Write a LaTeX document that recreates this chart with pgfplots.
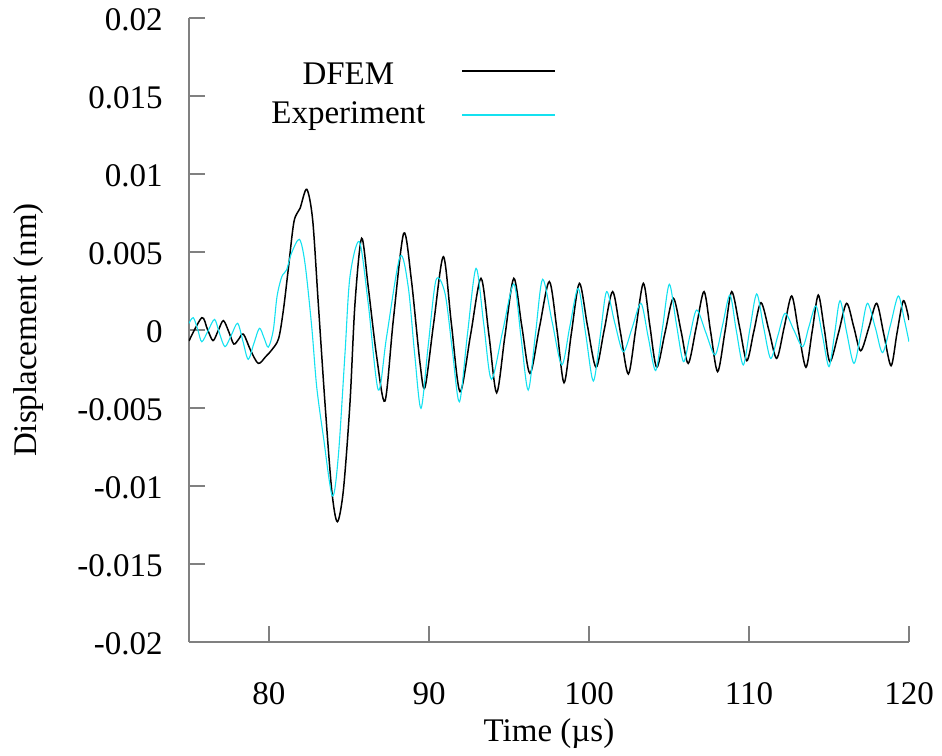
\documentclass[border=0pt]{standalone}
\usepackage{fontspec}
\setmainfont{Liberation Serif}
\usepackage{pgfplots}
\pgfplotsset{compat=1.18}
\usepackage{pgfplotstable}
\definecolor{expcyan}{RGB}{20,225,240}

\pgfplotstableread{
t y
75.0 -0.70e-3
75.8 0.79e-3
76.15 0.05e-3
76.5 -0.68e-3
76.82 -0.05e-3
77.15 0.60e-3
77.5 -0.15e-3
77.8 -0.90e-3
78.1 -0.60e-3
78.4 -0.26e-3
78.85 -1.30e-3
79.33 -2.14e-3
79.8 -1.70e-3
80.17 -1.28e-3
80.6 -0.55e-3
80.9 1.28e-3
81.2 3.85e-3
81.56 6.94e-3
81.94 7.80e-3
82.36 9.02e-3
82.73 7.05e-3
83.08 1.71e-3
83.5 -4.70e-3
83.92 -10.26e-3
84.27 -12.29e-3
84.65 -10.26e-3
85.06 -4.70e-3
85.375 1.71e-3
85.79 5.88e-3
86.2 2.78e-3
86.73 -1.71e-3
87.25 -4.55e-3
87.77 0.64e-3
88.42 6.20e-3
88.9 3.20e-3
89.44 -2.14e-3
89.75 -3.67e-3
90.3 0.50e-3
90.9 4.70e-3
91.4 0.40e-3
91.94 -3.95e-3
92.6 -0.30e-3
93.25 3.31e-3
93.75 -0.35e-3
94.23 -4.02e-3
94.75 -0.35e-3
95.3 3.31e-3
95.8 0.25e-3
96.31 -2.78e-3
96.9 0.15e-3
97.52 3.10e-3
98.0 0.00e-3
98.44 -3.38e-3
98.9 -0.20e-3
99.4 2.99e-3
99.9 0.30e-3
100.44 -2.39e-3
100.95 0.00e-3
101.48 2.46e-3
101.97 -0.18e-3
102.46 -2.82e-3
102.93 0.10e-3
103.4 2.99e-3
103.8 0.30e-3
104.23 -2.39e-3
104.75 -0.18e-3
105.27 2.03e-3
105.75 -0.05e-3
106.2 -2.14e-3
106.7 0.16e-3
107.19 2.46e-3
107.6 -0.10e-3
108.04 -2.67e-3
108.5 -0.10e-3
108.92 2.46e-3
109.4 0.25e-3
109.86 -1.97e-3
110.3 -0.10e-3
110.75 1.75e-3
111.25 -0.04e-3
111.73 -1.82e-3
112.2 0.18e-3
112.67 2.18e-3
113.1 -0.10e-3
113.56 -2.39e-3
113.95 -0.08e-3
114.33 2.24e-3
114.7 0.10e-3
115.06 -2.03e-3
115.6 -0.16e-3
116.1 1.71e-3
116.55 0.19e-3
116.98 -1.33e-3
117.5 0.19e-3
117.98 1.71e-3
118.43 -0.29e-3
118.88 -2.29e-3
119.25 -0.20e-3
119.65 1.88e-3
120.0 0.64e-3
}\dfem

\pgfplotstableread{
t y
75.0 0.43e-3
75.27 0.79e-3
75.55 0.02e-3
75.8 -0.75e-3
76.2 -0.03e-3
76.6 0.68e-3
76.9 -0.20e-3
77.25 -1.07e-3
77.65 -0.32e-3
78.04 0.43e-3
78.37 -0.72e-3
78.7 -1.88e-3
79.05 -0.88e-3
79.4 0.11e-3
79.68 -0.48e-3
79.96 -1.10e-3
80.27 0.00e-3
80.5 2.14e-3
80.8 3.42e-3
81.1 3.85e-3
81.4 4.91e-3
81.9 5.81e-3
82.25 4.27e-3
82.67 0.21e-3
82.98 -3.63e-3
83.4 -6.84e-3
83.96 -10.64e-3
84.33 -8.12e-3
84.75 -1.50e-3
85.06 3.42e-3
85.65 5.66e-3
86.2 1.71e-3
86.83 -3.85e-3
87.35 -0.43e-3
88.19 4.70e-3
88.7 2.78e-3
89.1 -1.50e-3
89.5 -5.02e-3
89.95 -1.00e-3
90.44 3.20e-3
91.0 2.35e-3
91.45 -1.20e-3
91.9 -4.60e-3
92.4 -0.30e-3
92.94 3.95e-3
93.42 0.40e-3
93.9 -3.16e-3
94.6 -0.10e-3
95.3 2.95e-3
95.75 -0.45e-3
96.2 -3.85e-3
96.65 -0.30e-3
97.1 3.25e-3
97.7 0.50e-3
98.3 -2.24e-3
98.8 0.21e-3
99.33 2.67e-3
99.8 -0.30e-3
100.27 -3.27e-3
100.7 -0.40e-3
101.1 2.46e-3
101.6 0.50e-3
102.14 -1.39e-3
102.7 0.15e-3
103.25 1.71e-3
103.7 -0.45e-3
104.17 -2.60e-3
104.6 0.17e-3
105.02 2.93e-3
105.45 0.45e-3
105.9 -2.03e-3
106.3 -0.40e-3
106.73 1.28e-3
107.3 -0.16e-3
107.88 -1.60e-3
108.35 0.32e-3
108.81 2.24e-3
109.2 0.00e-3
109.64 -2.24e-3
110.05 0.03e-3
110.48 2.31e-3
110.9 0.25e-3
111.35 -1.82e-3
111.8 -0.38e-3
112.25 1.07e-3
112.8 0.00e-3
113.35 -1.07e-3
113.75 0.23e-3
114.19 1.54e-3
114.6 -0.40e-3
115.0 -2.35e-3
115.35 -0.24e-3
115.69 1.88e-3
116.1 -0.13e-3
116.56 -2.14e-3
117.0 -0.20e-3
117.4 1.71e-3
117.9 0.13e-3
118.35 -1.45e-3
118.85 0.36e-3
119.33 2.18e-3
119.7 0.70e-3
120.0 -0.75e-3
}\expt

\begin{document}
\fontsize{16.5bp}{20bp}\selectfont
\begin{tikzpicture}[font=\fontsize{16.5bp}{20bp}\selectfont]
\useasboundingbox (-94.5bp,-57bp) rectangle (376.5bp,321bp);
\begin{axis}[
  scale only axis,
  width=360bp, height=312bp,
  xmin=75, xmax=120, ymin=-0.02, ymax=0.02,
  axis lines*=left,
  axis line style={-, gray, line width=1bp},
  tick align=inside,
  major tick length=8bp,
  tick style={gray, line width=1bp},
  xtick={80,90,100,110,120},
  ytick={-0.02,-0.015,-0.01,-0.005,0,0.005,0.01,0.015,0.02},
  yticklabels={-0.02,-0.015,-0.01,-0.005,0,0.005,0.01,0.015,0.02},
  scaled y ticks=false,
  /pgf/number format/assume math mode=true,
  xticklabel style={anchor=north, inner sep=0pt, yshift=-20bp},
  yticklabel style={anchor=east, inner sep=0pt, xshift=-13bp, yshift=-1bp},
  xlabel={Time (µs)},
  ylabel={Displacement (nm)},
  xlabel style={at={(axis description cs:0.5,-0.1587)}, anchor=base, inner sep=0pt},
  ylabel style={at={(axis description cs:-0.2125,0.5)}, anchor=base, inner sep=0pt, rotate=0},
  legend plot pos=right,
  legend style={at={(axis description cs:0.0958,0.939)}, anchor=north west,
    draw=none, fill=none, inner sep=0pt, row sep=3bp, column sep=11.5bp,
    nodes={inner sep=0pt}},
]
\addplot[black, line width=0.75bp, smooth, tension=0.5,
  legend image code/.code={\draw[black, line width=1.1bp] (0bp,1bp) -- (46.5bp,1bp);}]
  table[x=t, y=y] {\dfem};
\addlegendentry{\makebox[90bp][c]{\strut DFEM}}
\addplot[expcyan, line width=0.55bp, smooth, tension=0.5,
  legend image code/.code={\draw[expcyan, line width=1.1bp] (0bp,-1.6bp) -- (46.5bp,-1.6bp);}]
  table[x=t, y=y] {\expt};
\addlegendentry{\makebox[90bp][c]{\strut Experiment}}
\end{axis}
\end{tikzpicture}
\end{document}
